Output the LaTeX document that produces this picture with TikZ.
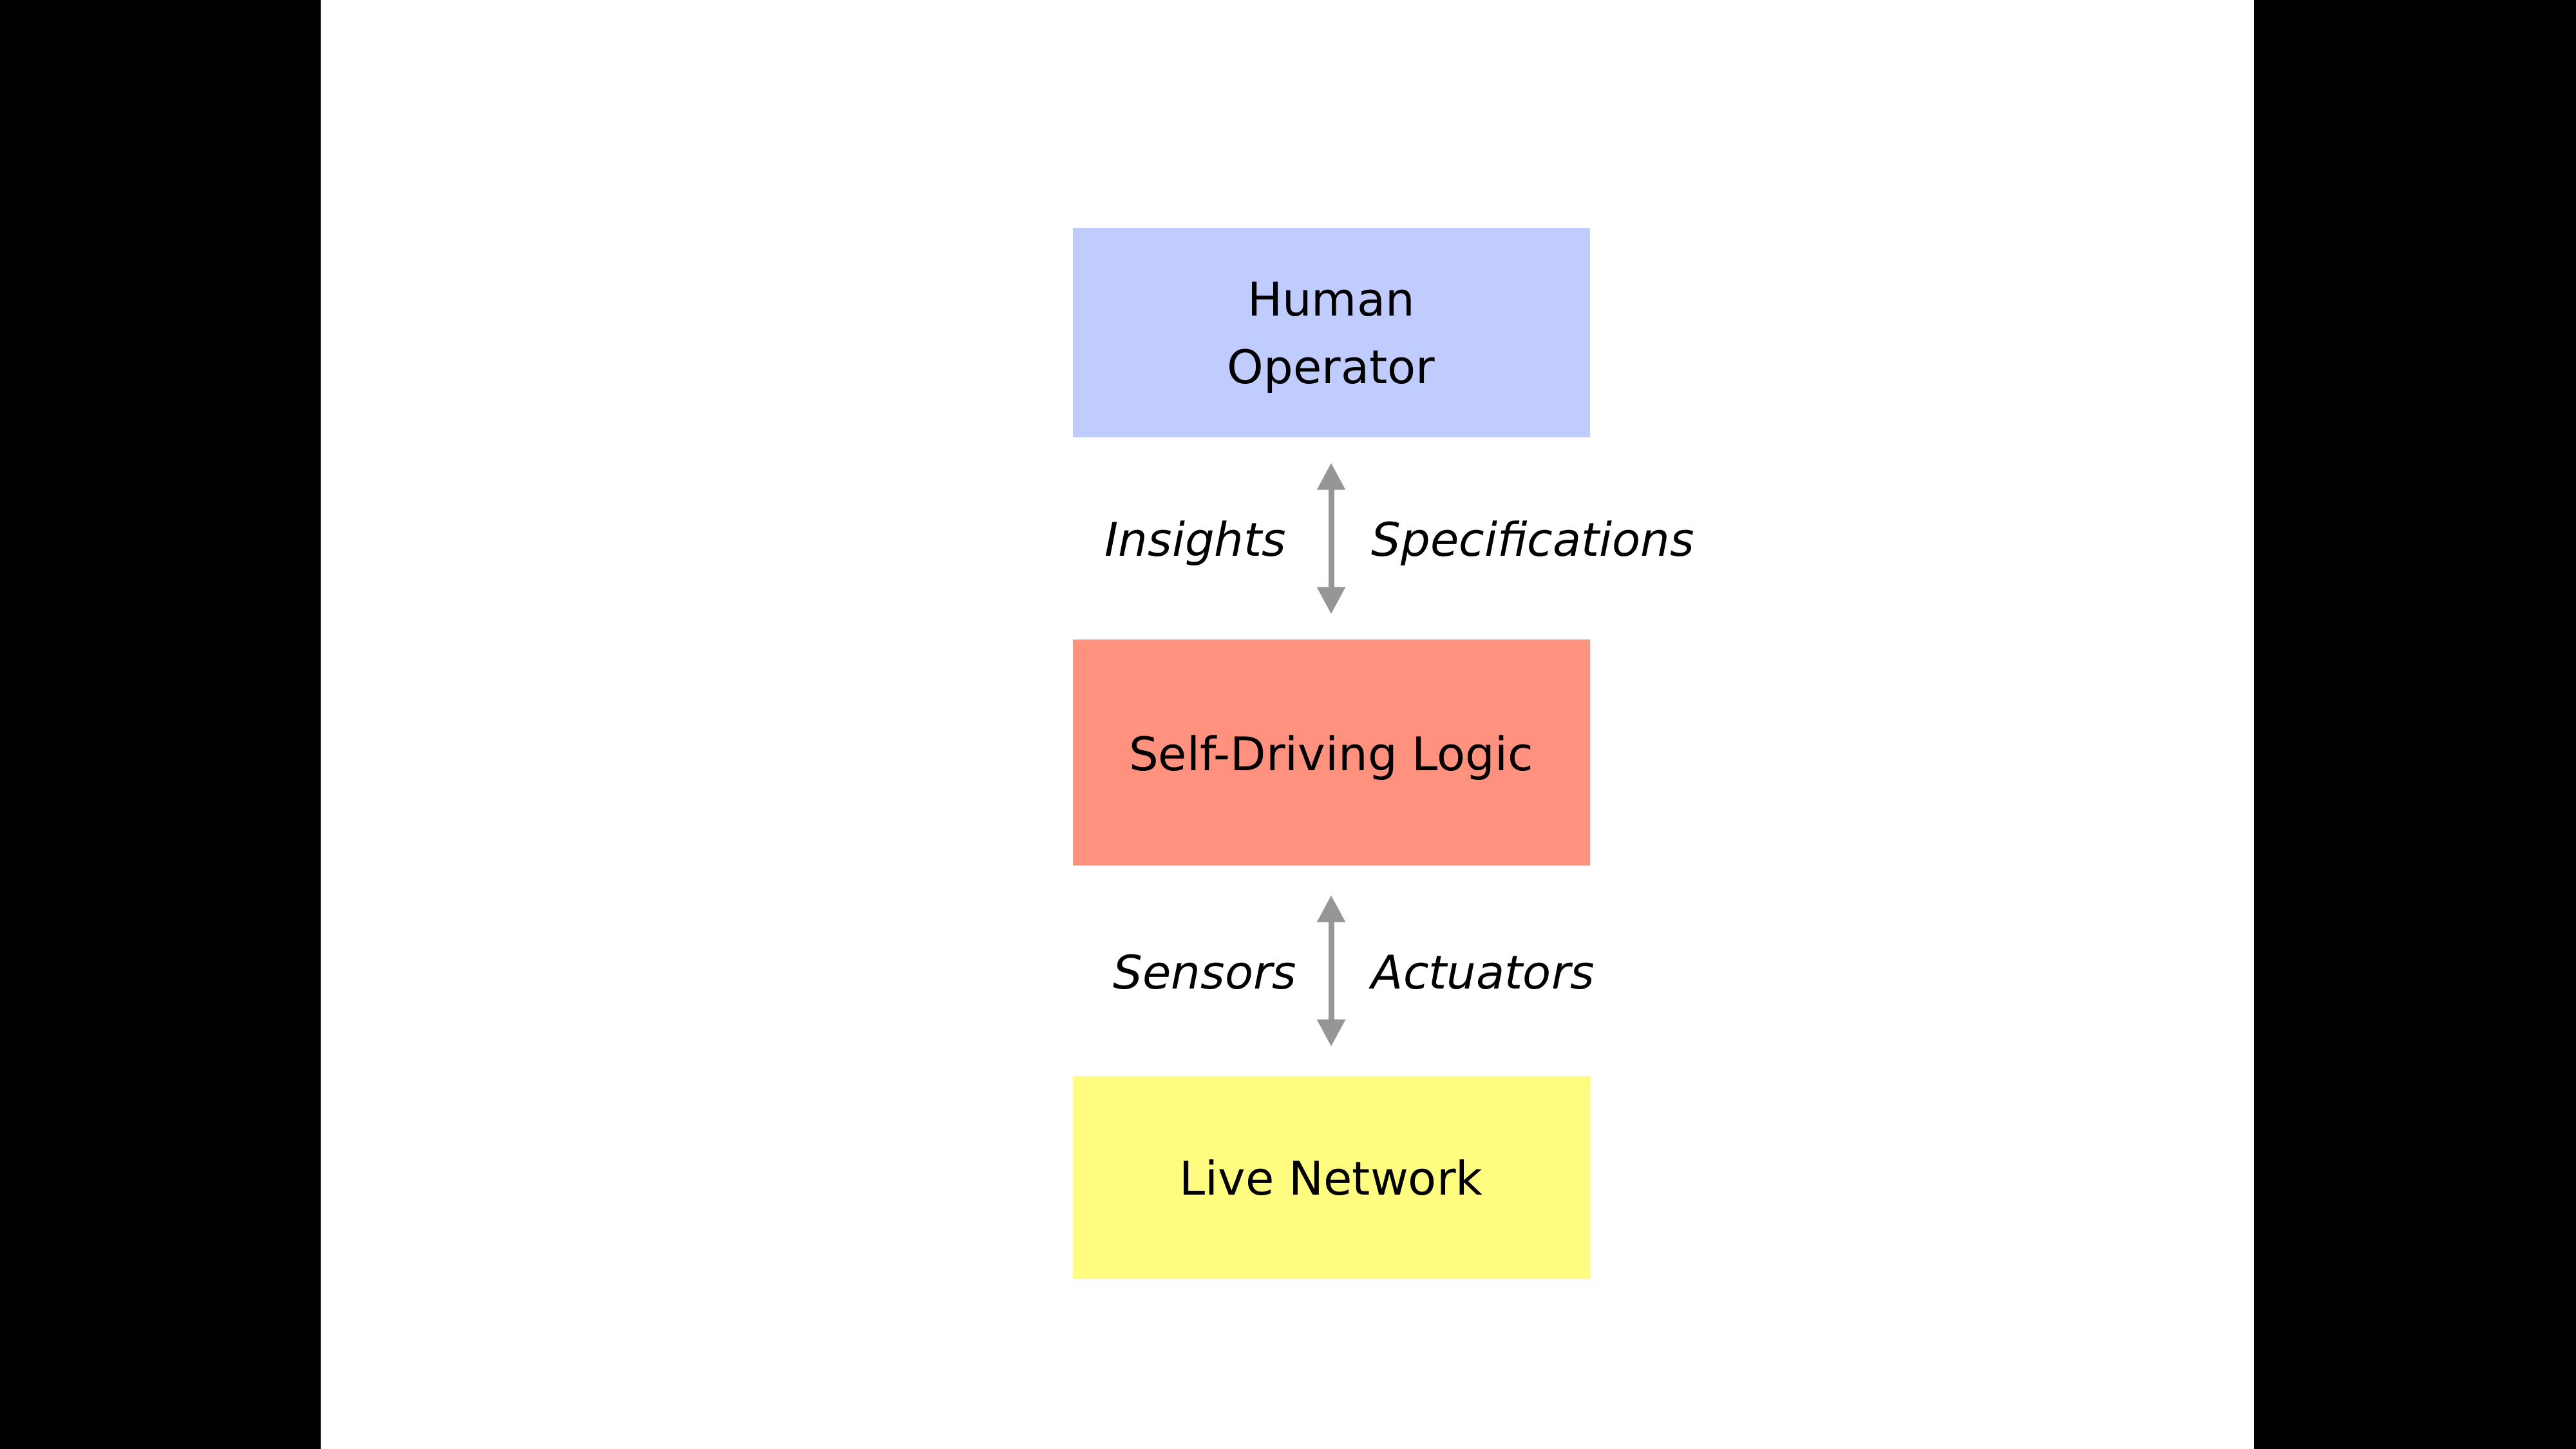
\documentclass[tikz,border=0pt]{standalone}
\usepackage{fontspec}
\setmainfont{DejaVu Sans}
\usepackage{tikz}
\usetikzlibrary{arrows.meta, calc, positioning}
\definecolor{OperatorBlue}{RGB}{192,203,254}
\definecolor{LogicSalmon}{RGB}{255,146,126}
\definecolor{NetYellow}{RGB}{255,252,128}
\definecolor{ArrowGray}{RGB}{150,150,150}
\tikzset{
	layer/.style={minimum width=8.03cm, inner sep=0pt, text depth=0pt, align=center, font=\fontsize{20.5}{30}\selectfont},
	flow/.style={draw=ArrowGray, line width=0.09cm, {Triangle[length=0.42cm, width=0.42cm]}-{Triangle[length=0.42cm, width=0.42cm]}},
	flowlabel/.style={inner sep=0pt, font=\fontsize{20.5}{30}\selectfont\itshape}
}

\begin{document}
\begin{tikzpicture}

	\useasboundingbox (0,0) rectangle (40,22.5);
	% letterbox bars
	\fill[black] (0,0) rectangle (4.98,22.5);
	\fill[black] (35.0,0) rectangle (40,22.5);

	% the three layers
	\node[layer, fill=OperatorBlue, minimum height=3.25cm] (human) at (20.67,17.335) {Human\\Operator};
	\node[layer, fill=LogicSalmon, minimum height=3.51cm, below=3.13cm of human] (logic) {Self-Driving Logic};
	\node[layer, fill=NetYellow, minimum height=3.15cm, below=3.25cm of logic] (network) {Live Network};

	% two-way links
	\draw[flow, shorten >=0.39cm, shorten <=0.39cm] (human.south) -- (logic.north);
	\draw[flow, shorten >=0.45cm, shorten <=0.45cm] (logic.south) -- (network.north);

	\coordinate (upmid) at ($ (human.south)!0.5!(logic.north) $);
	\coordinate (downmid) at ($ (logic.south)!0.5!(network.north) $);

	\node[flowlabel, anchor=base east] (insights) at ($ (upmid)+(-0.69,-0.275) $) {Insights};
	\node[flowlabel, anchor=base west] (specs) at ($ (upmid)+(0.62,-0.275) $) {Specifications};
	\node[flowlabel, anchor=base east] (sensors) at ($ (downmid)+(-0.53,-0.275) $) {Sensors};
	\node[flowlabel, anchor=base west] (actuators) at ($ (downmid)+(0.62,-0.275) $) {Actuators};

\end{tikzpicture}
\end{document}
